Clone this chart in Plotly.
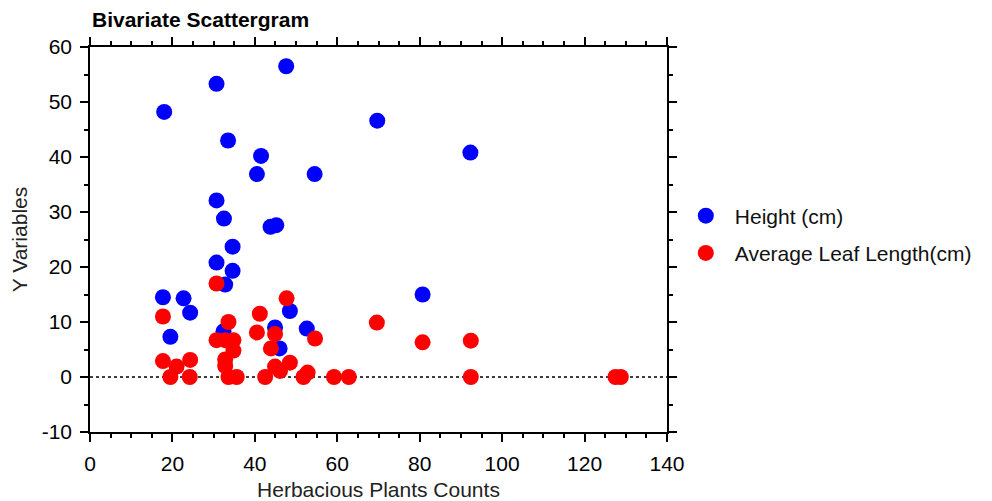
import plotly.graph_objects as go

# Data
height_x = [18.0, 30.7, 47.6, 33.5, 41.5, 40.5, 54.5, 69.7, 92.3, 30.7, 32.5, 43.8, 45.2, 34.6,
            30.7, 34.6, 32.8, 17.7, 22.7, 24.3, 19.5, 48.5, 44.9, 46.0, 52.6, 80.7, 32.4]
height_y = [48.2, 53.3, 56.5, 43.0, 40.2, 36.9, 36.9, 46.6, 40.8, 32.1, 28.8, 27.3, 27.6, 23.7,
            20.8, 19.3, 16.8, 14.5, 14.3, 11.7, 7.3, 12.0, 9.0, 5.2, 8.8, 15.0, 8.3]

leaf_x = [17.7, 17.7, 19.5, 21.0, 24.3, 24.2, 30.7, 33.6, 30.7, 32.8, 34.8, 34.8, 32.8, 32.8,
          33.6, 35.6, 41.2, 40.5, 44.9, 43.9, 47.7, 48.5, 44.9, 46.1, 42.5, 51.8, 52.8, 54.6,
          59.2, 62.8, 69.6, 80.7, 92.4, 92.4, 127.5, 128.8]
leaf_y = [11.0, 2.9, 0.0, 1.9, 3.1, 0.0, 17.0, 10.0, 6.7, 6.7, 6.7, 4.8, 3.2, 2.0,
          0.0, 0.0, 11.5, 8.1, 7.8, 5.2, 14.3, 2.6, 1.9, 1.1, 0.0, 0.0, 0.8, 7.0,
          0.0, 0.0, 9.9, 6.3, 6.6, 0.0, 0.0, 0.0]

x_tickvals = [0, 20, 40, 60, 80, 100, 120, 140]
x_ticktext = ["0", "20", "40", "60", "80", "100", "120", "140"]
y_tickvals = [-10, 0, 10, 20, 30, 40, 50, 60]
y_ticktext = ["-10", "0", "10", "20", "30", "40", "50", "60"]

series_names = ["Height (cm)", "Average Leaf Length(cm)"]
title_text = "Bivariate Scattergram"
x_title = "Herbacious Plants Counts"
y_title = "Y Variables"

FONT = "Liberation Sans, Arial, sans-serif"
FS = 21

fig = go.Figure()
fig.add_trace(go.Scatter(x=height_x, y=height_y, mode="markers", name=series_names[0],
                         legendgroup="a",
                         marker=dict(color="#0000ff", size=16, line=dict(width=0))))
fig.add_trace(go.Scatter(x=leaf_x, y=leaf_y, mode="markers", name=series_names[1],
                         legendgroup="b",
                         marker=dict(color="#ff0000", size=16, line=dict(width=0))))

fig.add_shape(type="line", xref="paper", yref="y", x0=0, x1=1, y0=0, y1=0,
              line=dict(color="black", width=1.5, dash="dot"), layer="below")

axis_common = dict(showgrid=False, zeroline=False, showline=True, linecolor="black",
                   linewidth=1.5, ticks="outside", ticklen=8, tickwidth=1.5,
                   tickcolor="black", mirror="allticks", automargin=False,
                   tickfont=dict(family=FONT, size=FS, color="black"))

fig.update_xaxes(range=[0, 140], tickmode="array", tickvals=x_tickvals, ticktext=x_ticktext,
                 minor=dict(dtick=5, tick0=0, ticks="outside", ticklen=4, tickwidth=1.5, tickcolor="black"),
                 ticklabelstandoff=4,
                 title=dict(text=x_title, font=dict(family=FONT, size=FS, color="#222"), standoff=9),
                 **axis_common)
fig.update_yaxes(range=[-10, 60], tickmode="array", tickvals=y_tickvals, ticktext=y_ticktext,
                 minor=dict(dtick=5, tick0=0, ticks="outside", ticklen=4, tickwidth=1.5, tickcolor="black"),
                 ticklabelstandoff=4,
                 title=dict(text=y_title, font=dict(family=FONT, size=FS, color="#222"), standoff=8),
                 **axis_common)

fig.update_layout(
    width=984, height=493,
    margin=dict(l=82, r=325, t=39, b=69),
    paper_bgcolor="white", plot_bgcolor="white",
    title=dict(text="<b>" + title_text + "</b>", x=84/984, xref="container", xanchor="left",
               y=1 - 12/493, yanchor="middle", automargin=False,
               font=dict(family=FONT, size=21, color="black")),
    legend=dict(x=1.017, xanchor="left", y=0.513, yanchor="middle", itemwidth=48,
                font=dict(family=FONT, size=FS, color="#111"),
                traceorder="grouped", tracegroupgap=7, bgcolor="rgba(0,0,0,0)"),
    showlegend=True,
)

fig.write_html("out.html")
